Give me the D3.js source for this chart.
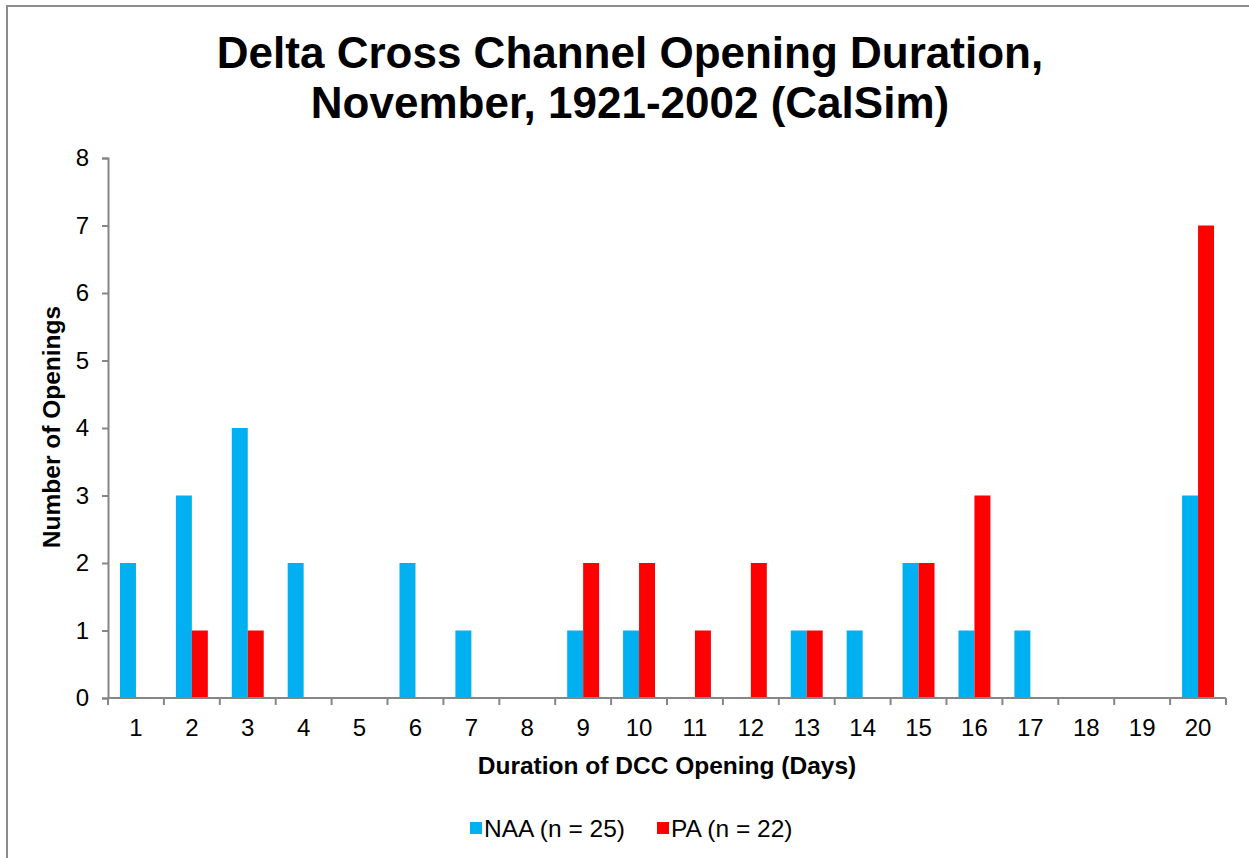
<!DOCTYPE html>
<html>
<head>
<meta charset="utf-8">
<script src="https://cdn.jsdelivr.net/npm/d3@7"></script>
<style>
  html, body { margin: 0; padding: 0; background: #fff; }
  svg { display: block; font-family: "Liberation Sans", Arial, sans-serif; }
</style>
</head>
<body>
<svg id="chart" width="1249" height="858"></svg>
<script>
const categories = ["1","2","3","4","5","6","7","8","9","10","11","12","13","14","15","16","17","18","19","20"];
const naaValues = [2,3,4,2,0,2,1,0,1,1,0,0,1,1,2,1,1,0,0,3];
const paValues  = [0,1,1,0,0,0,0,0,2,2,1,2,1,0,2,3,0,0,0,7];
const seriesNames = ["NAA (n = 25)", "PA (n = 22)"];
const seriesColors = ["#00B0F0", "#FF0000"];
const yTicks = [0,1,2,3,4,5,6,7,8];
const titleLines = ["Delta Cross Channel Opening Duration,", "November, 1921-2002 (CalSim)"];
const xTitle = "Duration of DCC Opening (Days)";
const yTitle = "Number of Openings";

const svg = d3.select("#chart");
const axisColor = "#868686";

// outer frame (chart area border)
svg.append("path")
  .attr("d", "M7,1300 L7,6 L1300,6")
  .attr("fill", "none").attr("stroke", "#8c8c8c").attr("stroke-width", 2);

const plot = { left: 108, right: 1226, top: 158, bottom: 698 };

const x = d3.scaleBand().domain(categories).range([plot.left, plot.right]).paddingInner(0).paddingOuter(0);
const inner = d3.scaleBand().domain([0,1]).range([0, x.bandwidth()]).paddingInner(0).paddingOuter(0.75);
const y = d3.scaleLinear().domain([0, 8]).range([plot.bottom, plot.top]);

const rows = categories.map((c, i) => ({ c, vals: [naaValues[i], paValues[i]] }));

const g = svg.append("g");
rows.forEach(r => {
  r.vals.forEach((v, si) => {
    if (v <= 0) return;
    g.append("rect")
      .attr("x", x(r.c) + inner(si))
      .attr("y", y(v))
      .attr("width", inner.bandwidth())
      .attr("height", y(0) - y(v))
      .attr("fill", seriesColors[si]);
  });
});

// Y axis
const yAxis = svg.append("g").attr("transform", `translate(${plot.left},0)`)
  .call(d3.axisLeft(y).tickValues(yTicks).tickSize(6).tickPadding(13).tickFormat(d3.format("d")));
yAxis.select(".domain").attr("stroke", axisColor).attr("stroke-width", 2);
yAxis.selectAll(".tick line").attr("stroke", axisColor).attr("stroke-width", 2);
yAxis.selectAll(".tick text").attr("fill", "#000").attr("font-size", 24).attr("font-family", "Liberation Sans, Arial, sans-serif");

// X axis with ticks at category boundaries
const xAxisG = svg.append("g").attr("transform", `translate(0,${plot.bottom})`);
xAxisG.append("line").attr("x1", plot.left).attr("x2", plot.right).attr("y1", 0).attr("y2", 0)
  .attr("stroke", axisColor).attr("stroke-width", 2);
const boundaries = categories.map(c => x(c)).concat([x(categories[categories.length-1]) + x.bandwidth()]);
xAxisG.selectAll("line.tk").data(boundaries).join("line").attr("class","tk")
  .attr("x1", d => d).attr("x2", d => d).attr("y1", 0).attr("y2", 7)
  .attr("stroke", axisColor).attr("stroke-width", 2);
xAxisG.selectAll("text").data(categories).join("text")
  .attr("x", d => x(d) + x.bandwidth()/2).attr("y", 38)
  .attr("text-anchor", "middle").attr("font-size", 24).attr("fill", "#000")
  .text(d => d);

// Titles
svg.append("text").attr("x", 630).attr("y", 68).attr("text-anchor", "middle")
  .attr("font-size", 44).attr("font-weight", "bold").text(titleLines[0]);
svg.append("text").attr("x", 630).attr("y", 118).attr("text-anchor", "middle")
  .attr("font-size", 44).attr("font-weight", "bold").text(titleLines[1]);

svg.append("text").attr("x", 667).attr("y", 774).attr("text-anchor", "middle")
  .attr("font-size", 24.5).attr("font-weight", "bold").text(xTitle);

svg.append("text").attr("transform", `translate(60,427) rotate(-90)`).attr("text-anchor", "middle")
  .attr("font-size", 24.5).attr("font-weight", "bold").text(yTitle);

// Legend
const legendItems = [{x: 470}, {x: 657}];
legendItems.forEach((li, i) => {
  svg.append("rect").attr("x", li.x).attr("y", 822).attr("width", 12).attr("height", 12).attr("fill", seriesColors[i]);
  svg.append("text").attr("x", li.x + 14).attr("y", 837).attr("font-size", 24.5).attr("fill", "#000").text(seriesNames[i]);
});
</script>
</body>
</html>
